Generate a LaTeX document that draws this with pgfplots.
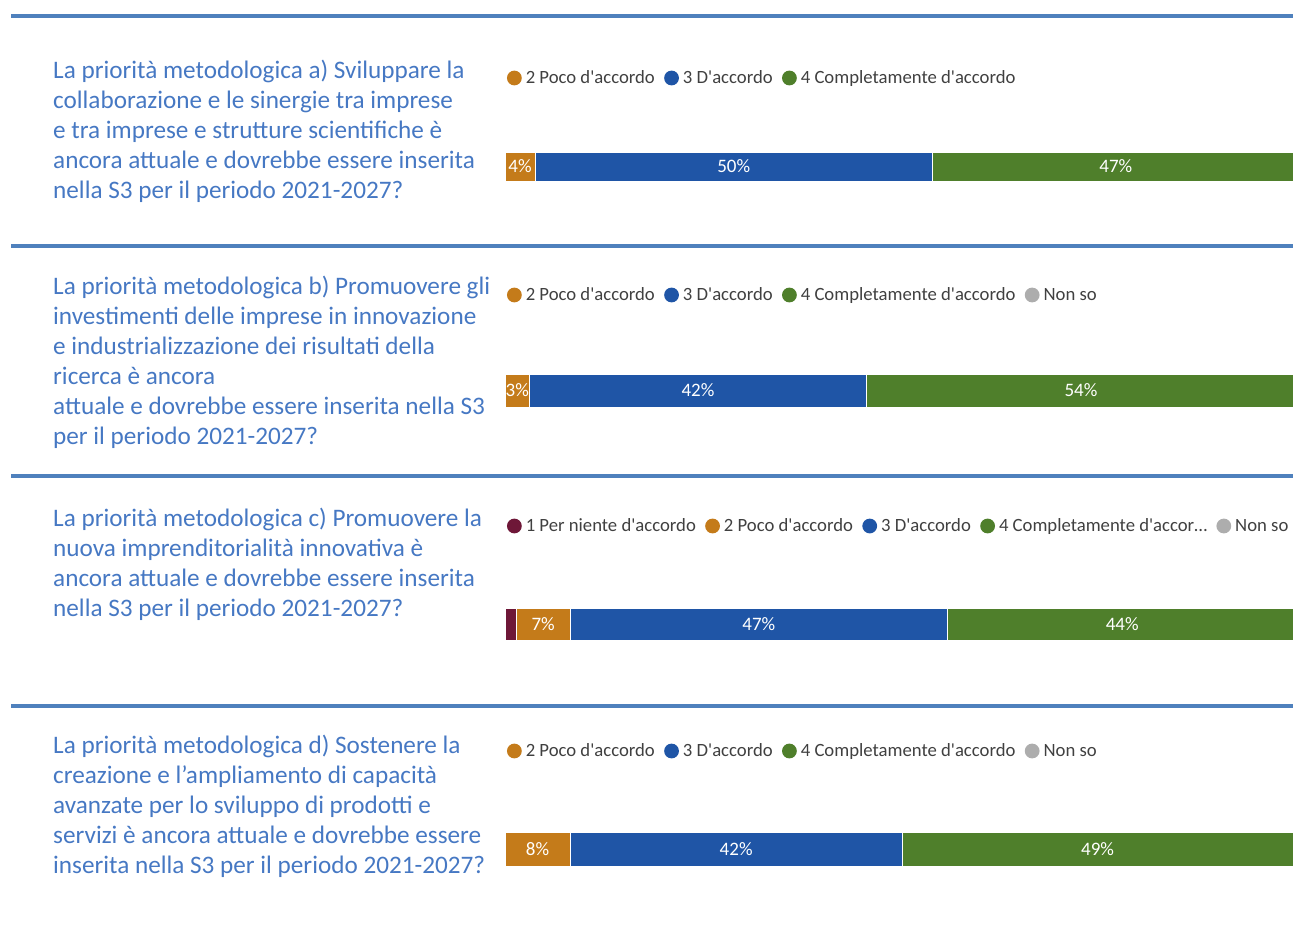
\documentclass[border=0pt]{standalone}
\usepackage{pgfplots}
\pgfplotsset{compat=1.18}
\usepackage{fontspec}
\newfontfamily\cfont{Carlito}
\definecolor{cA}{RGB}{110,23,56}
\definecolor{cB}{RGB}{196,123,26}
\definecolor{cC}{RGB}{31,85,166}
\definecolor{cD}{RGB}{79,127,43}
\definecolor{cE}{RGB}{173,173,173}
\definecolor{lineblue}{RGB}{79,129,189}
\definecolor{qblue}{RGB}{70,120,195}
\definecolor{leggray}{RGB}{64,64,64}
\pgfplotsset{
 barpanel/.style={xbar stacked, scale only axis, width=788pt, height=100pt,
   xmin=0, xmax=99.2, ymin=-1, ymax=1, hide axis, bar width=#1, anchor=west,
   legend image code/.code={\fill[##1,draw=none] (7.4pt,0pt) circle (7.4pt);},
   legend columns=-1, legend cell align=left,
   legend style={draw=none, fill=none, inner sep=0pt, outer sep=0pt, anchor=west,
     font=\cfont\fontsize{18.7}{22}\selectfont, text=leggray,
     nodes={inner sep=0pt, outer sep=0pt},
     /tikz/every odd column/.append style={column sep=4pt},
     /tikz/every even column/.append style={column sep=9.3pt}}},
 labpanel/.style={scale only axis, width=788pt, height=100pt,
   xmin=0, xmax=99.2, ymin=-1, ymax=1, hide axis, anchor=west},
 seg/.style={fill=#1, draw=white, line width=0.6pt},
 lab/.style={draw=none, mark=none, point meta=explicit symbolic,
   nodes near coords={\pgfplotspointmeta\%},
   every node near coord/.append style={anchor=center, text=white,
     font=\cfont\fontsize{19}{21}\selectfont}}
}
\begin{document}
\begin{tikzpicture}
\useasboundingbox (0pt,0pt) rectangle (1293pt,-926pt);
\clip (0pt,0pt) rectangle (1293pt,-926pt);
% separator lines
\foreach \yy in {16,246,476,706} {
  \draw[line width=4pt, lineblue] (11pt,-\yy pt) -- (1300pt,-\yy pt);
}
% question texts
\tikzset{q/.style={anchor=base west, inner sep=0pt, text=qblue,
  font=\cfont\fontsize{25.2}{30}\selectfont}}
\node[q] at (53pt,-78pt) {La priorità metodologica a) Sviluppare la};
\node[q] at (53pt,-108pt) {collaborazione e le sinergie tra imprese};
\node[q] at (53pt,-138pt) {e tra imprese e strutture scientifiche è};
\node[q] at (53pt,-168pt) {ancora attuale e dovrebbe essere inserita};
\node[q] at (53pt,-198pt) {nella S3 per il periodo 2021-2027?};
\node[q] at (53pt,-294pt) {La priorità metodologica b) Promuovere gli};
\node[q] at (53pt,-324pt) {investimenti delle imprese in innovazione};
\node[q] at (53pt,-354pt) {e industrializzazione dei risultati della};
\node[q] at (53pt,-384pt) {ricerca è ancora};
\node[q] at (53pt,-414pt) {attuale e dovrebbe essere inserita nella S3};
\node[q] at (53pt,-444pt) {per il periodo 2021-2027?};
\node[q] at (53pt,-526pt) {La priorità metodologica c) Promuovere la};
\node[q] at (53pt,-556pt) {nuova imprenditorialità innovativa è};
\node[q] at (53pt,-586pt) {ancora attuale e dovrebbe essere inserita};
\node[q] at (53pt,-616pt) {nella S3 per il periodo 2021-2027?};
\node[q] at (53pt,-753pt) {La priorità metodologica d) Sostenere la};
\node[q] at (53pt,-783pt) {creazione e l’ampliamento di capacità};
\node[q] at (53pt,-813pt) {avanzate per lo sviluppo di prodotti e};
\node[q] at (53pt,-843pt) {servizi è ancora attuale e dovrebbe essere};
\node[q] at (53pt,-873pt) {inserita nella S3 per il periodo 2021-2027?};

% panel a
\begin{axis}[barpanel=29pt, at={(505pt,-166.5pt)},
  legend style={at={(axis description cs:0.0025,1.385)}}]
\addplot[seg=cB] coordinates {(3.8,0)}; \addlegendentry{2 Poco d'accordo}
\addplot[seg=cC] coordinates {(50.0,0)}; \addlegendentry{3 D'accordo}
\addplot[seg=cD] coordinates {(46.2,0)}; \addlegendentry{4 Completamente d'accordo}
\end{axis}
\begin{axis}[labpanel, at={(505pt,-166.5pt)}]
\addplot[lab] coordinates {(1.9,0) [4] (28.8,0) [50] (76.9,0) [47]};
\end{axis}

% panel b
\begin{axis}[barpanel=33pt, at={(505pt,-390.5pt)},
  legend style={at={(axis description cs:0.0025,1.455)}}]
\addplot[seg=cB] coordinates {(3.1,0)}; \addlegendentry{2 Poco d'accordo}
\addplot[seg=cC] coordinates {(42.4,0)}; \addlegendentry{3 D'accordo}
\addplot[seg=cD] coordinates {(54.0,0)}; \addlegendentry{4 Completamente d'accordo}
\addplot[seg=cE] coordinates {(0.5,0)}; \addlegendentry{Non so}
\end{axis}
\begin{axis}[labpanel, at={(505pt,-390.5pt)}]
\addplot[lab] coordinates {(1.55,0) [3] (24.3,0) [42] (72.5,0) [54]};
\end{axis}

% panel c
\begin{axis}[barpanel=32pt, at={(505pt,-624pt)},
  legend style={at={(axis description cs:0.0025,1.48)}}]
\addplot[seg=cA] coordinates {(1.4,0)}; \addlegendentry{1 Per niente d'accordo}
\addplot[seg=cB] coordinates {(6.8,0)}; \addlegendentry{2 Poco d'accordo}
\addplot[seg=cC] coordinates {(47.5,0)}; \addlegendentry{3 D'accordo}
\addplot[seg=cD] coordinates {(44.0,0)}; \addlegendentry{4 Completamente d'accor…}
\addplot[seg=cE] coordinates {(0.3,0)}; \addlegendentry{Non so}
\end{axis}
\begin{axis}[labpanel, at={(505pt,-624pt)}]
\addplot[lab] coordinates {(4.8,0) [7] (31.95,0) [47] (77.7,0) [44]};
\end{axis}

% panel d
\begin{axis}[barpanel=34pt, at={(505pt,-849pt)},
  legend style={at={(axis description cs:0.0025,1.48)}}]
\addplot[seg=cB] coordinates {(8.2,0)}; \addlegendentry{2 Poco d'accordo}
\addplot[seg=cC] coordinates {(41.8,0)}; \addlegendentry{3 D'accordo}
\addplot[seg=cD] coordinates {(49.3,0)}; \addlegendentry{4 Completamente d'accordo}
\addplot[seg=cE] coordinates {(0.7,0)}; \addlegendentry{Non so}
\end{axis}
\begin{axis}[labpanel, at={(505pt,-849pt)}]
\addplot[lab] coordinates {(4.1,0) [8] (29.1,0) [42] (74.6,0) [49]};
\end{axis}
\end{tikzpicture}
\end{document}
